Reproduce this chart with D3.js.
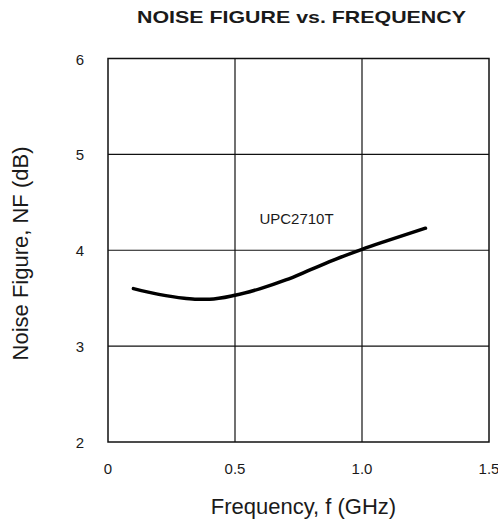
<!DOCTYPE html>
<html>
<head>
<meta charset="utf-8">
<script src="https://cdn.jsdelivr.net/npm/d3@7"></script>
<style>
  body { margin: 0; background: #fff; }
  svg text { font-family: "Liberation Sans", Arial, sans-serif; fill: #1a1a1a; }
</style>
</head>
<body>
<div id="chart"></div>
<script>
// curve
var freq = [0.1, 0.2, 0.3, 0.35, 0.4, 0.5, 0.6, 0.7, 0.8, 0.9, 1.0, 1.1, 1.25];
var nf   = [3.60, 3.54, 3.50, 3.49, 3.49, 3.53, 3.60, 3.69, 3.80, 3.91, 4.01, 4.10, 4.23];
var xTicks = [0, 0.5, 1.0, 1.5];
var xTickLabels = ["0", "0.5", "1.0", "1.5"];
var yTicks = [2, 3, 4, 5, 6];
var seriesName = "UPC2710T";

var w = 498, h = 525;
var margins = {top: 58.5, bottom: 83, left: 108, right: 9};

var x = d3.scaleLinear().domain([0, 1.5]).range([margins.left, w - margins.right]);
var y = d3.scaleLinear().domain([2, 6]).range([h - margins.bottom, margins.top]);

var svg = d3.select("#chart").append("svg")
  .attr("width", w)
  .attr("height", h);

// grid
svg.append("g").selectAll("line.v")
  .data(xTicks.slice(1, -1))
  .enter().append("line")
  .attr("x1", function(d) { return x(d); })
  .attr("x2", function(d) { return x(d); })
  .attr("y1", y(2)).attr("y2", y(6))
  .attr("stroke", "#111").attr("stroke-width", 1.2);

svg.append("g").selectAll("line.h")
  .data(yTicks.slice(1, -1))
  .enter().append("line")
  .attr("x1", x(0)).attr("x2", x(1.5))
  .attr("y1", function(d) { return y(d); })
  .attr("y2", function(d) { return y(d); })
  .attr("stroke", "#111").attr("stroke-width", 1.2);

svg.append("rect")
  .attr("x", x(0)).attr("y", y(6))
  .attr("width", x(1.5) - x(0)).attr("height", y(2) - y(6))
  .attr("fill", "none").attr("stroke", "#111").attr("stroke-width", 1.5);

// tick labels
svg.append("g").selectAll("text")
  .data(xTicks)
  .enter().append("text")
  .attr("x", function(d) { return x(d); })
  .attr("y", 474)
  .attr("text-anchor", "middle")
  .style("font-size", "15px")
  .text(function(d, i) { return xTickLabels[i]; });

svg.append("g").selectAll("text")
  .data(yTicks)
  .enter().append("text")
  .attr("x", 80)
  .attr("y", function(d) { return y(d) + 6; })
  .attr("text-anchor", "middle")
  .style("font-size", "15px")
  .text(function(d) { return d; });

// curve
var line = d3.line()
  .x(function(d) { return x(d[0]); })
  .y(function(d) { return y(d[1]); })
  .curve(d3.curveMonotoneX);

svg.append("path")
  .datum(d3.zip(freq, nf))
  .attr("d", line)
  .attr("fill", "none")
  .attr("stroke", "#000")
  .attr("stroke-width", 3.5)
  .attr("stroke-linecap", "round");

svg.append("text")
  .attr("x", 296.5)
  .attr("y", 224)
  .attr("text-anchor", "middle")
  .style("font-size", "15px")
  .text(seriesName);

// titles
svg.append("text")
  .attr("x", 301.5).attr("y", 22.5)
  .attr("text-anchor", "middle")
  .attr("textLength", 329)
  .attr("lengthAdjust", "spacingAndGlyphs")
  .style("font-size", "17px").style("font-weight", "bold")
  .text("NOISE FIGURE vs. FREQUENCY");

svg.append("text")
  .attr("x", 303.5).attr("y", 514)
  .attr("text-anchor", "middle")
  .style("font-size", "22px")
  .text("Frequency, f (GHz)");

svg.append("text")
  .attr("transform", "translate(28,253.5) rotate(-90)")
  .attr("text-anchor", "middle")
  .style("font-size", "22px")
  .text("Noise Figure, NF (dB)");
</script>
</body>
</html>
